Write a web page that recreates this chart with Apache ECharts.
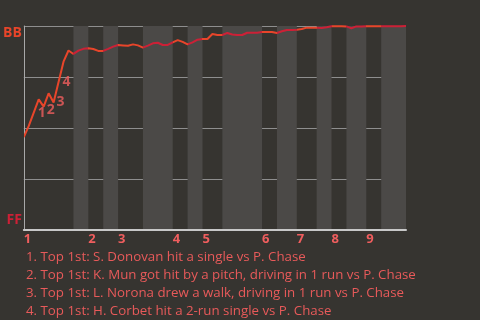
<!DOCTYPE html>
<html><head><meta charset="utf-8">
<script src="https://cdn.jsdelivr.net/npm/echarts@6/dist/echarts.min.js"></script>
<style>html,body{margin:0;padding:0;background:#363430;}#c{width:480px;height:320px;}</style>
</head><body><div id="c"></div>
<script>
// Win probability for BB (percent) after each plate appearance, index = PA number
const winProb = [45.5,51,57.5,64,60.5,67,62.5,72.5,82.5,88,86.3,87.9,88.8,89.1,88.7,87.8,87.8,88.8,89.9,90.7,
 90.5,90.3,91.0,90.5,89.4,90.4,91.5,91.8,90.7,90.7,92.0,93.1,92.2,91.0,92.0,93.3,93.6,93.6,96.1,95.6,
 95.6,96.6,95.8,95.6,95.6,96.7,96.7,96.7,97.1,97.1,97.1,96.6,97.4,98.0,98.0,98.2,98.5,99.2,99.2,99.2,
 99.0,99.4,99.9,99.9,99.9,99.8,98.9,99.8,99.8,99.9,99.9,99.9,99.9,99.9,99.9,99.9,99.9,100];
// half-inning boundaries (PA index): top1, bot1, top2, bot2, ...
const halfBounds = [0,10,13,16,19,24,30,33,36,40,48,51,55,59,62,65,69,72,77];
const inningLabels = ['1','2','3','4','5','6','7','8','9'];
const yLabels = ['FF','BB'];
const eventPAs = [3,5,7,8];
const eventNotes = [
 '1. Top 1st: S. Donovan hit a single vs P. Chase',
 '2. Top 1st: K. Mun got hit by a pitch, driving in 1 run vs P. Chase',
 '3. Top 1st: L. Norona drew a walk, driving in 1 run vs P. Chase',
 '4. Top 1st: H. Corbet hit a 2-run single vs P. Chase'
];

const ORANGE = '#e8452a', CRIMSON = '#cc2036', LABEL = '#f05e5e';
const FONT = 'Open Sans';
const inningStarts = halfBounds.filter((v,i)=>i%2===0 && i<halfBounds.length-1);
const bands = [], pieces = [];
for (let i=0;i<halfBounds.length-1;i++){
  const top = i%2===0;
  pieces.push({gte: halfBounds[i], lt: (i===halfBounds.length-2? halfBounds[i+1]+1 : halfBounds[i+1]), color: top?ORANGE:CRIMSON});
  if(!top) bands.push([{xAxis: halfBounds[i]},{xAxis: halfBounds[i+1]}]);
}
const lineData = winProb.map((v,i)=>[i,v]);
const labelOffsets = [[3,14],[2,17],[2,20],[3,20]];
const evData = eventPAs.map((pa,i)=>({value:[pa,winProb[pa]], label:{offset:labelOffsets[i]}}));

const chart = echarts.init(document.getElementById('c'), null, {renderer:'canvas'});
chart.setOption({
  backgroundColor:'#363430',
  animation:false,
  grid:{left:20,right:74,top:26,bottom:90},
  title:{text:eventNotes.join('\n'), left:21, top:243,
    textStyle:{fontFamily:FONT, fontSize:13.3, fontWeight:'normal', color:'#e85a5a', lineHeight:18}},
  xAxis:{type:'value', min:0, max:halfBounds[halfBounds.length-1], z:1,
    axisLine:{show:true, lineStyle:{color:'#c8c8c8', width:2}},
    axisTick:{show:false}, splitLine:{show:false},
    axisLabel:{customValues:inningStarts, align:'left', margin:3,
      formatter:(v)=>inningLabels[inningStarts.indexOf(v)],
      color:LABEL, fontFamily:FONT, fontWeight:'bold', fontSize:13}},
  yAxis:{type:'value', min:0, max:100, interval:25, z:1,
    axisLine:{show:true, lineStyle:{color:'#a8a8a8', width:1}},
    axisTick:{show:false},
    splitLine:{show:true, lineStyle:{color:'#8e8e8e', width:1}},
    axisLabel:{customValues:[0,100], margin:2,
      formatter:(v)=> v===100 ? '{bb|'+yLabels[1]+'}' : '{ff|'+yLabels[0]+'}',
      rich:{bb:{color:ORANGE, fontWeight:'bold', fontSize:14, fontFamily:FONT, padding:[14,0,0,0]},
            ff:{color:CRIMSON, fontWeight:'bold', fontSize:14, fontFamily:FONT, padding:[0,0,20,0]}}}},
  visualMap:{show:false, type:'piecewise', dimension:0, seriesIndex:1, pieces:pieces},
  series:[
    {type:'line', data:[], z:0, silent:true,
      markArea:{silent:true, itemStyle:{color:'#4b4947'}, data:bands}},
    {type:'line', data:lineData, z:3, symbol:'none', lineStyle:{width:2}},
    {type:'scatter', data:evData, z:4, symbolSize:0,
      label:{show:true, position:'inside', formatter:(p)=>String(p.dataIndex+1),
        color:LABEL, fontWeight:'bold', fontSize:14, fontFamily:FONT}}
  ]
});
</script></body></html>
